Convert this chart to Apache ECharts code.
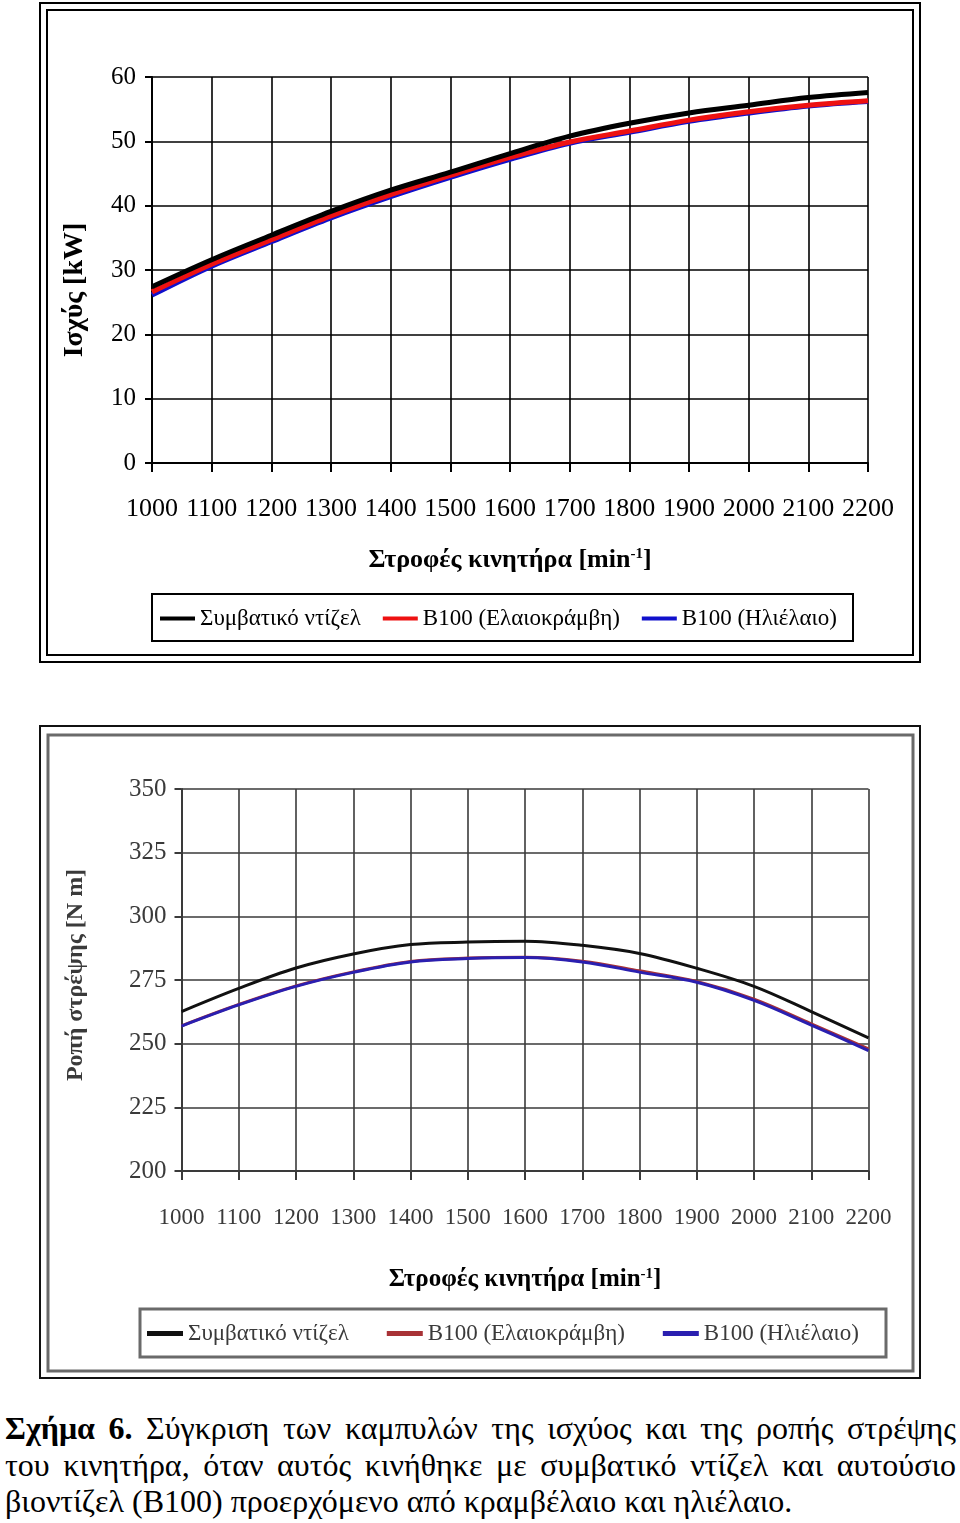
<!DOCTYPE html>
<html>
<head>
<meta charset="utf-8">
<script src="https://cdn.jsdelivr.net/npm/echarts@6/dist/echarts.min.js"></script>
<style>
html,body{margin:0;padding:0;background:#fff;width:960px;height:1523px;overflow:hidden;}
#chart{position:absolute;left:0;top:0;width:960px;height:1400px;}
#cap{position:absolute;left:5px;top:1410px;width:951px;font-family:'Liberation Serif','Times New Roman',serif;font-size:32px;line-height:36.5px;color:#000;}
#cap .j{text-align:justify;text-align-last:justify;}
</style>
</head>
<body>
<div id="chart"></div>
<div id="cap">
<div class="j"><b>Σχήμα 6.</b> Σύγκριση των καμπυλών της ισχύος και της ροπής στρέψης</div>
<div class="j">του κινητήρα, όταν αυτός κινήθηκε με συμβατικό ντίζελ και αυτούσιο</div>
<div>βιοντίζελ (Β100) προερχόμενο από κραμβέλαιο και ηλιέλαιο.</div>
</div>
<script>
// ---- data ----
const rpm = [1000, 1100, 1200, 1300, 1400, 1500, 1600, 1700, 1800, 1900, 2000, 2100, 2200];
const seriesNames = ['Συμβατικό ντίζελ', 'B100 (Ελαιοκράμβη)', 'B100 (Ηλιέλαιο)'];
// Power [kW]
const powerDiesel = [27.4, 31.6, 35.4, 39.1, 42.4, 45.2, 48.1, 50.8, 52.8, 54.4, 55.6, 56.8, 57.6];
const powerRapeseed = [26.6, 30.9, 34.7, 38.4, 41.7, 44.7, 47.5, 49.9, 51.6, 53.3, 54.6, 55.6, 56.3];
const powerSunflower = [26.1, 30.6, 34.4, 38.1, 41.4, 44.4, 47.2, 49.7, 51.4, 53.1, 54.4, 55.5, 56.2];
// Torque [N m]
const torqueDiesel = [262.6, 271.7, 279.7, 285.2, 288.9, 289.9, 290.2, 288.6, 285.4, 279.6, 272.5, 262.6, 252.3];
const torqueRapeseed = [257.0, 265.4, 272.7, 278.2, 282.3, 283.6, 283.9, 282.4, 278.6, 274.4, 267.5, 257.8, 248.0];
const torqueSunflower = [256.9, 265.2, 272.5, 278.0, 282.1, 283.4, 283.8, 282.1, 278.1, 274.1, 267.0, 257.3, 247.3];

const pair = (ys) => rpm.map((x, i) => [x, ys[i]]);
const FONT = "'Liberation Serif','Times New Roman',serif";

const chart = echarts.init(document.getElementById('chart'), null, {renderer: 'canvas'});

function xAxisCfg(grid, color, gridColor, margin, size) {
  return {
    type: 'value', gridIndex: grid, min: 1000, max: 2200, interval: 100,
    axisLine: {show: true, lineStyle: {color: color, width: 2}},
    axisTick: {show: true, length: 9, lineStyle: {color: color, width: 2}},
    splitLine: {show: true, lineStyle: {color: gridColor, width: 1.6}},
    axisLabel: {fontFamily: FONT, fontSize: size, color: color, margin: margin, showMinLabel: true, showMaxLabel: true,
      formatter: v => String(v)}
  };
}
function yAxisCfg(grid, min, max, interval, color, gridColor, margin) {
  return {
    type: 'value', gridIndex: grid, min: min, max: max, interval: interval,
    axisLine: {show: true, lineStyle: {color: color, width: 2}},
    axisTick: {show: true, length: 7, lineStyle: {color: color, width: 2}},
    splitLine: {show: true, lineStyle: {color: gridColor, width: 1.6}},
    axisLabel: {fontFamily: FONT, fontSize: 25, color: color, margin: margin, formatter: v => String(v)}
  };
}
function line(name, data, color, width, xi, z) {
  return {
    type: 'line', name: name, data: data, xAxisIndex: xi, yAxisIndex: xi,
    showSymbol: false, symbol: 'none', smooth: 0.35, z: z,
    lineStyle: {color: color, width: width}, itemStyle: {color: color}
  };
}

const titleRich = (c, size) => ({
  a: {fontFamily: FONT, fontSize: size, fontWeight: 'bold', color: c},
  s: {fontFamily: FONT, fontSize: 15, fontWeight: 'bold', color: c, verticalAlign: 'top', padding: [0, 0, 12, 0]}
});

chart.setOption({
  animation: false,
  backgroundColor: '#fff',
  grid: [
    {left: 152, top: 77, width: 716, height: 386},
    {left: 181.5, top: 789, width: 687, height: 382}
  ],
  xAxis: [
    xAxisCfg(0, '#000', '#000', 33, 26),
    xAxisCfg(1, '#3a3a3a', '#3a3a3a', 35, 23)
  ],
  yAxis: [
    yAxisCfg(0, 0, 60, 10, '#000', '#000', 16),
    yAxisCfg(1, 200, 350, 25, '#3a3a3a', '#3a3a3a', 15)
  ],
  legend: [
    {
      data: seriesNames, left: 155, top: 602, icon: 'rect', itemWidth: 35, itemHeight: 4, itemGap: 22,
      textStyle: {fontFamily: FONT, fontSize: 23, color: '#000'}, selectedMode: false
    },
    {
      data: seriesNames.map(n => n + ' '), formatter: n => n.trim(),
      left: 142, top: 1317, icon: 'rect', itemWidth: 36, itemHeight: 5, itemGap: 38,
      textStyle: {fontFamily: FONT, fontSize: 23, color: '#3a3a3a'}, selectedMode: false
    }
  ],
  series: [
    line(seriesNames[0], pair(powerDiesel), '#000000', 5, 0, 5),
    line(seriesNames[1], pair(powerRapeseed), '#ee1111', 5, 0, 4),
    line(seriesNames[2], pair(powerSunflower), '#1010cc', 5, 0, 3),
    line(seriesNames[0] + ' ', pair(torqueDiesel), '#111111', 3, 1, 5),
    line(seriesNames[1] + ' ', pair(torqueRapeseed), '#a83236', 3, 1, 3),
    line(seriesNames[2] + ' ', pair(torqueSunflower), '#2a1fb0', 3, 1, 4)
  ],
  graphic: [
    {type: 'rect', shape: {x: 40, y: 3, width: 880, height: 659}, style: {fill: 'none', stroke: '#000', lineWidth: 2}, z: 0},
    {type: 'rect', shape: {x: 47, y: 10, width: 866, height: 645}, style: {fill: 'none', stroke: '#000', lineWidth: 2}, z: 0},
    {type: 'rect', shape: {x: 152, y: 594, width: 701, height: 47}, style: {fill: 'none', stroke: '#000', lineWidth: 2}, z: 0},
    {type: 'rect', shape: {x: 40, y: 726, width: 880, height: 652}, style: {fill: 'none', stroke: '#111', lineWidth: 2}, z: 0},
    {type: 'rect', shape: {x: 48, y: 735, width: 865, height: 636}, style: {fill: 'none', stroke: '#6a6a6a', lineWidth: 3}, z: 0},
    {type: 'rect', shape: {x: 140, y: 1309, width: 746, height: 48}, style: {fill: 'none', stroke: '#6a6a6a', lineWidth: 3}, z: 0},
    {type: 'text', x: 75, y: 290, rotation: Math.PI / 2,
      style: {text: 'Ισχύς [kW]', font: "bold 28px " + FONT, fill: '#000', textAlign: 'center', textVerticalAlign: 'middle'}},
    {type: 'text', x: 510, y: 560,
      style: {text: '{a|Στροφές κινητήρα [min}{s|-1}{a|]}', rich: titleRich('#000', 26), textAlign: 'center', textVerticalAlign: 'middle'}},
    {type: 'text', x: 76, y: 975, rotation: Math.PI / 2,
      style: {text: 'Ροπή στρέψης [N m]', font: "bold 24px " + FONT, fill: '#3a3a3a', textAlign: 'center', textVerticalAlign: 'middle'}},
    {type: 'text', x: 525, y: 1280,
      style: {text: '{a|Στροφές κινητήρα [min}{s|-1}{a|]}', rich: titleRich('#3a3a3a', 25), textAlign: 'center', textVerticalAlign: 'middle'}}
  ]
});
</script>
</body>
</html>
